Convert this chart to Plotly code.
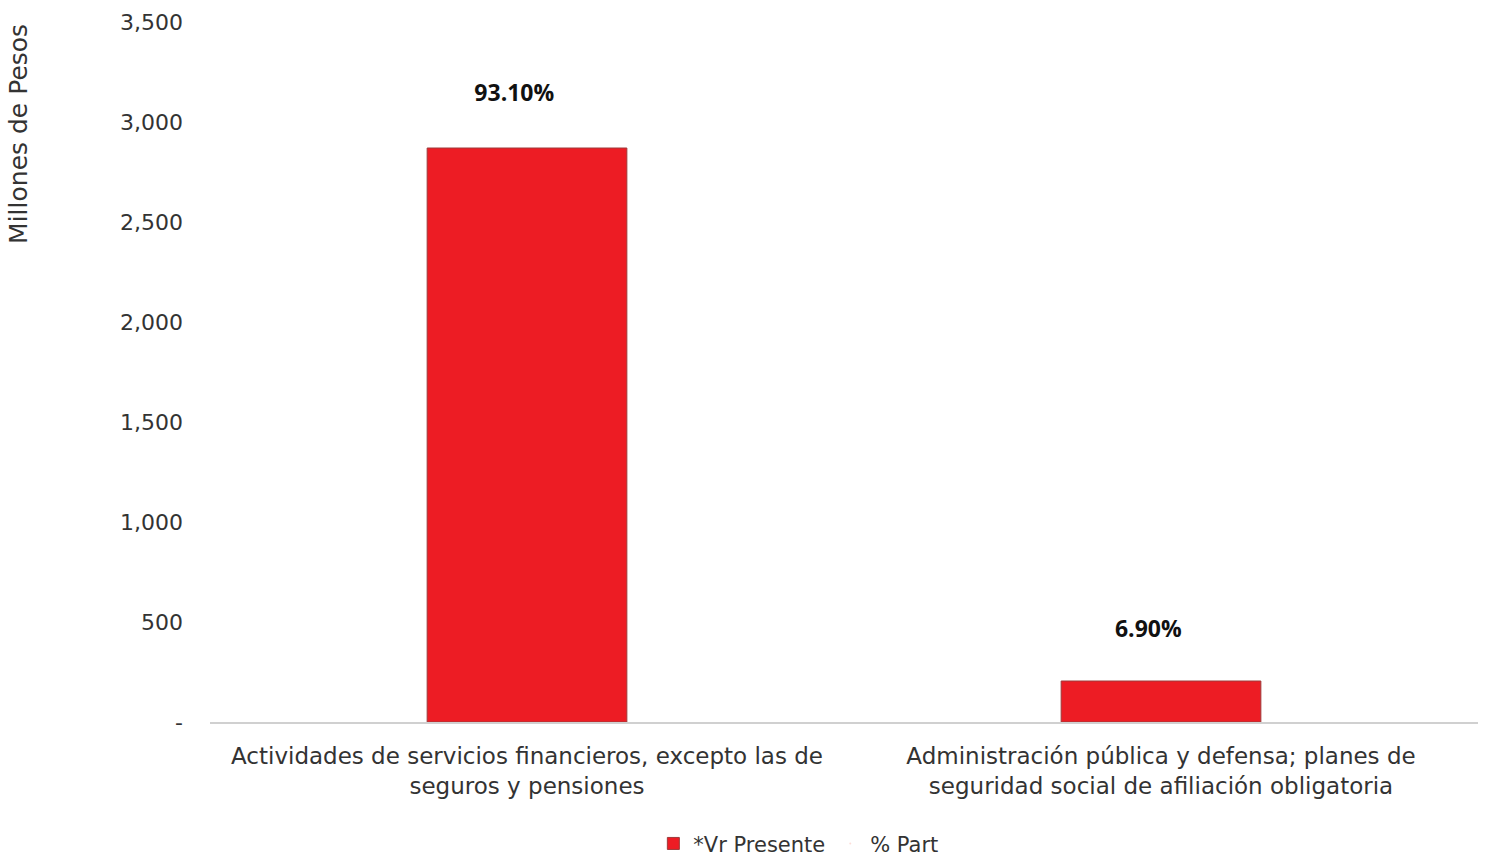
import plotly.graph_objects as go

categories = [
    "Actividades de servicios financieros, excepto las de<br>seguros y pensiones",
    "Administración pública y defensa; planes de<br>seguridad social de afiliación obligatoria",
]
vr_presente = [2870, 205]
pct_part = [93.10, 6.90]
tick_vals = [0, 500, 1000, 1500, 2000, 2500, 3000, 3500]
tick_text = ["-", "500", "1,000", "1,500", "2,000", "2,500", "3,000", "3,500"]

FONT = "DejaVu Sans"

fig = go.Figure()
fig.add_trace(go.Bar(
    x=categories, y=vr_presente, name="*Vr Presente",
    marker=dict(color="#ED1C24", line=dict(color="#9E3A3A", width=1)),
))
fig.add_trace(go.Scatter(
    x=categories, y=pct_part, name="% Part", yaxis="y2", xaxis="x2",
    mode="markers+text",
    marker=dict(opacity=0, size=1),
    text=[f"{v:.2f}%" for v in pct_part],
    textposition="middle center",
    textfont=dict(family="Open Sans", size=23, color="#111111", weight="bold"),
))

fig.update_layout(
    width=1486, height=857,
    paper_bgcolor="white", plot_bgcolor="white",
    margin=dict(l=210, r=8, t=22, b=135, autoexpand=False),
    font=dict(family=FONT, size=22, color="#333333"),
    bargap=0.685,
    showlegend=True,
    legend=dict(orientation="h", x=0.464, xanchor="center", y=-0.174, yanchor="middle",
                font=dict(size=21, color="#333333"), itemwidth=30),
    xaxis=dict(showline=True, linecolor="#D0D0D0", linewidth=2, ticks="",
               automargin=False, ticklabelstandoff=12,
               tickfont=dict(size=23, color="#333333")),
    xaxis2=dict(overlaying="x", range=[-0.48, 1.52], visible=False,
                categoryorder="array", categoryarray=categories),
    yaxis=dict(range=[0, 3500], tickvals=tick_vals, ticktext=tick_text,
               showgrid=False, zeroline=False, showline=False, automargin=False,
               ticklabelstandoff=26,
               tickfont=dict(size=22, color="#333333"), ticklen=0),
    yaxis2=dict(range=[-7.73, 104.85], overlaying="y", side="right",
                visible=False, showgrid=False),
    annotations=[dict(
        text="Millones de Pesos", textangle=-90, xref="paper", yref="paper",
        x=-0.1515, y=1.0, xanchor="center", yanchor="top", showarrow=False,
        font=dict(size=25, color="#333333"),
    )],
)

fig.write_html("out.html", config={"displayModeBar": False},
               post_script="document.body.style.margin='0';document.body.style.padding='0';")
